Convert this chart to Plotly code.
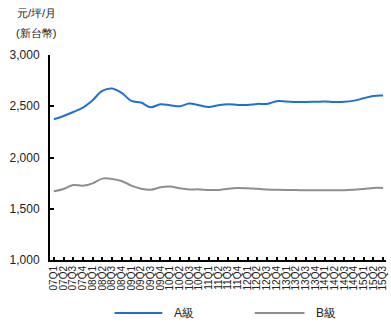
import plotly.graph_objects as go

# Quarterly office rent, 2007Q1 - 2015Q3 (NTD per ping per month)
quarters = [f"{y:02d}Q{q}" for y in range(7, 16) for q in range(1, 5)][:35]

grade_a = [2373, 2405, 2444, 2487, 2559, 2650, 2673, 2630, 2552, 2536,
           2490, 2520, 2510, 2500, 2526, 2510, 2493, 2510, 2520, 2513,
           2513, 2523, 2523, 2549, 2546, 2542, 2542, 2544, 2546, 2542,
           2544, 2555, 2578, 2601, 2604]

grade_b = [1670, 1693, 1732, 1725, 1748, 1794, 1791, 1771, 1725, 1696,
           1686, 1709, 1716, 1699, 1689, 1689, 1683, 1683, 1696, 1703,
           1700, 1694, 1689, 1686, 1684, 1683, 1680, 1680, 1680, 1680,
           1681, 1686, 1693, 1703, 1703]

series_names = ["A級", "B級"]
series_colors = ["#1f70d4", "#8e8e8e"]

y_ticks = [1000, 1500, 2000, 2500, 3000]
y_tick_text = ["1,000", "1,500", "2,000", "2,500", "3,000"]

FONT = "Liberation Sans, Arial, sans-serif"

fig = go.Figure()
for name, vals, col in zip(series_names, [grade_a, grade_b], series_colors):
    fig.add_trace(go.Scatter(
        x=quarters, y=vals, mode="lines", name=name,
        line=dict(color=col, width=2, shape="spline", smoothing=1.0),
        showlegend=False,
    ))

W, H = 391, 325
L, R, T, B = 50, 3, 55, 65
pw, ph = W - L - R, H - T - B


def px(x):
    return (x - L) / pw


def py(y):
    return (H - B - y) / ph


# Legend drawn as line samples with labels below the plot
legend_items = [(115, 163, 173), (256, 306, 316)]
for (x0, x1, xt), name, col in zip(legend_items, series_names, series_colors):
    fig.add_shape(type="line", xref="paper", yref="paper",
                  x0=px(x0), x1=px(x1), y0=py(313), y1=py(313),
                  line=dict(color=col, width=2))
    fig.add_annotation(xref="paper", yref="paper", x=px(xt), y=py(313),
                       text=name, showarrow=False, xanchor="left",
                       yanchor="middle",
                       font=dict(family=FONT, size=12, color="#222"))

# Unit label above the value axis
for txt, yy in [("元/坪/月", 13), ("(新台幣)", 33)]:
    fig.add_annotation(xref="paper", yref="paper", x=px(36), y=py(yy),
                       text=txt, showarrow=False, xanchor="center",
                       yanchor="middle",
                       font=dict(family=FONT, size=11, color="#222"))

fig.update_layout(
    width=W, height=H,
    margin=dict(l=L, r=R, t=T, b=B, pad=0),
    paper_bgcolor="white", plot_bgcolor="white",
    font=dict(family=FONT, color="#222"),
    xaxis=dict(
        type="category", range=[-0.4, 34.3],
        tickmode="array", tickvals=quarters, ticktext=quarters,
        tickangle=-90, tickfont=dict(size=10, color="#222"),
        showline=True, linecolor="black", linewidth=2,
        ticks="inside", ticklen=3, tickwidth=1.5, tickcolor="black",
        showgrid=False, zeroline=False, fixedrange=True,
    ),
    yaxis=dict(
        range=[1000, 3000], tickmode="array",
        tickvals=y_ticks, ticktext=y_tick_text,
        tickfont=dict(size=12, color="#222"),
        showline=True, linecolor="black", linewidth=2,
        ticks="inside", ticklen=4, tickwidth=1.5, tickcolor="black",
        showgrid=False, zeroline=False, ticklabelstandoff=6,
    ),
)

fig.write_html("out.html")
